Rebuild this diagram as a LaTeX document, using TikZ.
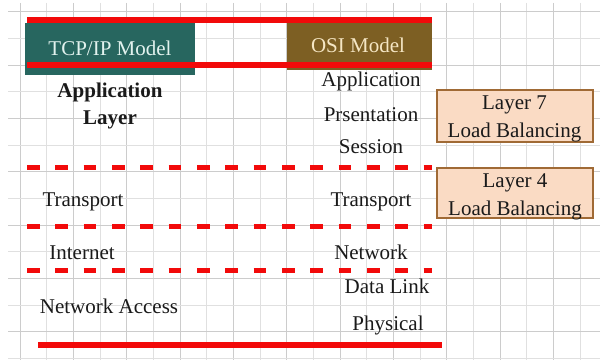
\documentclass[tikz,border=0pt]{standalone}
\usepackage{fontspec}
\setmainfont{Liberation Serif}
\newfontfamily\refserif{Liberation Serif}
\definecolor{gridlt}{HTML}{E0E0E0}
\definecolor{griddk}{HTML}{CCCCCC}
\definecolor{tealbox}{HTML}{27665F}
\definecolor{brownbox}{HTML}{7D5F23}
\definecolor{peach}{HTML}{FADBC4}
\definecolor{peachborder}{HTML}{A06A35}
\definecolor{redline}{HTML}{F20A0A}
\definecolor{tcptext}{HTML}{E2F2EE}
\definecolor{ositext}{HTML}{F5E6C4}
\definecolor{ink}{HTML}{1A1A1A}
\tikzset{
  lbl/.style={font=\refserif\fontsize{15.75pt}{20.25pt}\selectfont, text=ink, inner sep=0pt, anchor=base},
  hdrbox/.style={draw=none, inner sep=0pt},
  lbbox/.style={fill=peach, draw=peachborder, line width=1.5pt, inner sep=0pt, minimum width=117pt},
  redsolid/.style={draw=redline, line width=4.2pt},
  reddash/.style={draw=redline, line width=3.75pt, dash pattern=on 9.5pt off 11.75pt},
}
\begin{document}
\begin{tikzpicture}[x=0.75pt,y=-0.75pt]
\useasboundingbox (0,0) rectangle (600,360);
\fill[white] (0,0) rectangle (600,360);
% spreadsheet grid
\begin{scope}
  \clip (8,3) rectangle (600,360);
  \foreach \k in {0,...,21}{
    \pgfmathparse{mod(\k,2)==0 ? "griddk" : "gridlt"}
    \edef\gc{\pgfmathresult}
    \draw[\gc, line width=0.75pt] ({20+26.667*\k},3) -- ({20+26.667*\k},360);
  }
  \foreach \k in {0,...,13}{
    \pgfmathparse{mod(\k,2)==0 ? "griddk" : "gridlt"}
    \edef\gc{\pgfmathresult}
    \draw[\gc, line width=0.75pt] (8,{11.667+26.667*\k}) -- (600,{11.667+26.667*\k});
  }
\end{scope}
% header boxes
\node[hdrbox, fill=tealbox, minimum width=127.5pt, minimum height=39pt] (tcpbox) at (110,49) {};
\node[hdrbox, fill=brownbox, minimum width=108.75pt, minimum height=39.75pt] (osibox) at (359.5,43.5) {};
\node[lbl, text=tcptext] (tcptxt) at (110,56) {TCP/IP Model};
\node[lbl, text=ositext] (ositxt) at (358,53) {OSI Model};
% red separators
\draw[redsolid] (27,20) -- (432,20);
\draw[redsolid] (27,65) -- (432,65);
\draw[reddash] (27,167) -- (432,167);
\draw[reddash] (27,226) -- (432,226);
\draw[reddash] (27,270) -- (432,270);
\draw[redsolid] (38,345) -- (442,345);
% TCP/IP column
\node[font=\refserif\fontsize{15.75pt}{20.25pt}\selectfont\bfseries, text=ink, inner sep=0pt, align=center] (appl) at (110,105.6) {Application\\Layer};
\node[lbl] (tcptrans) at (83,206) {Transport};
\node[lbl] (inet) at (82,259) {Internet};
\node[lbl] (netacc) at (109,313) {Network Access};
% OSI column
\node[lbl] (osiapp) at (371,87) {Application};
\node[lbl] (osipres) at (371,122) {Prsentation};
\node[lbl] (osisess) at (371,153) {Session};
\node[lbl] (ositrans) at (371,206) {Transport};
\node[lbl] (osinet) at (371,259) {Network};
\node[lbl] (osidl) at (387,293) {Data Link};
\node[lbl] (osiphy) at (388,330) {Physical};
% load balancing boxes
\node[lbbox, minimum height=39pt] (l7box) at (514.5,116) {};
\node[lbbox, minimum height=37.5pt] (l4box) at (515,193) {};
\node[font=\refserif\fontsize{15.75pt}{21pt}\selectfont, text=ink, inner sep=0pt, align=center] (l7txt) at (514.5,119.3) {Layer 7\\Load Balancing};
\node[font=\refserif\fontsize{15.75pt}{21pt}\selectfont, text=ink, inner sep=0pt, align=center] (l4txt) at (515,196.4) {Layer 4\\Load Balancing};
\end{tikzpicture}
\end{document}
